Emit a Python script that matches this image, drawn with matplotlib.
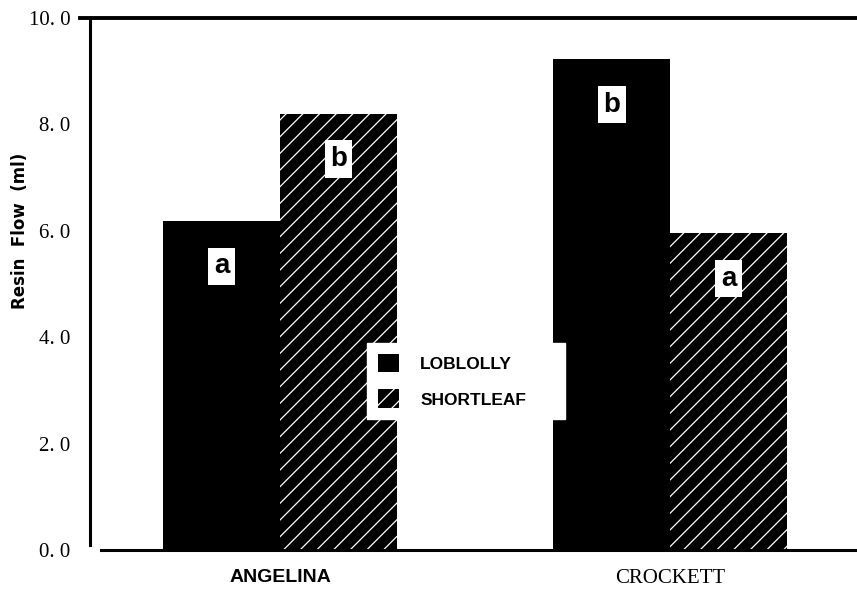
import matplotlib
matplotlib.use("Agg")
import matplotlib.pyplot as plt
from matplotlib.patches import Patch

sites = ["ANGELINA", "CROCKETT"]
species = ["LOBLOLLY", "SHORTLEAF"]
loblolly = [6.18, 9.22]
shortleaf = [8.2, 5.95]
letters_lob = ["a", "b"]
letters_short = ["b", "a"]
yticks = [0.0, 2.0, 4.0, 6.0, 8.0, 10.0]
ytick_labels = ["0. 0", "2. 0", "4. 0", "6. 0", "8. 0", "10. 0"]

plt.rcParams['hatch.linewidth'] = 0.9

fig = plt.figure(figsize=(8.57, 5.96), dpi=100)
ax = fig.add_axes([0.105, 0.0772, 0.895, 0.8926])

w = 0.30
x = [0, 1]
xl = [xi - w / 2 for xi in x]
xs = [xi + w / 2 for xi in x]
ax.bar(xl, loblolly, width=w, color="black", linewidth=0)
ax.bar(xs, shortleaf, width=w, color="black", edgecolor="white", hatch="//", linewidth=0)

off = 0.85
for xi, v, t in zip(xl, loblolly, letters_lob):
    ax.text(xi, v - off, t, ha="center", va="center", fontsize=20, fontweight="bold",
            family="Liberation Sans", color="black",
            bbox=dict(boxstyle="square,pad=0.2", fc="white", ec="none"))
for xi, v, t in zip(xs, shortleaf, letters_short):
    ax.text(xi, v - off, t, ha="center", va="center", fontsize=20, fontweight="bold",
            family="Liberation Sans", color="black",
            bbox=dict(boxstyle="square,pad=0.2", fc="white", ec="none"))

ax.set_xlim(-0.487, 1.479)
ax.set_ylim(0, 10)
ax.set_yticks(yticks)
ax.set_yticklabels(ytick_labels, family="Liberation Serif", fontsize=15)
ax.tick_params(axis="y", length=0, pad=14)
ax.set_xticks(x)
ax.set_xticklabels(sites)
ax.tick_params(axis="x", length=0, pad=14)
tl = ax.get_xticklabels()
tl[0].set_fontfamily("Liberation Sans")
tl[0].set_fontweight("bold")
tl[0].set_fontsize(14)
tl[1].set_fontfamily("Liberation Serif")
tl[1].set_fontsize(15)

for s in ["top", "right"]:
    ax.spines[s].set_visible(False)
ax.spines["left"].set_linewidth(2.2)
ax.spines["bottom"].set_linewidth(2.2)
ax.spines["left"].set_bounds(0.1, 10)
ax.spines["bottom"].set_bounds(-0.46, 1.479)
ax.plot([-0.013, 1], [1, 1], color="black", lw=2.8, transform=ax.transAxes, clip_on=False)

fig.text(20 / 857, 1 - 231 / 596, "Resin  Flow  (ml)", rotation=90, ha="center", va="center",
         fontsize=12, fontweight="bold", family="DejaVu Sans")

handles = [Patch(facecolor="black", linewidth=0),
           Patch(facecolor="black", edgecolor="white", hatch="//", linewidth=0)]
leg = fig.legend(handles, species, loc="upper left",
                 bbox_to_anchor=(367 / 857, 1 - 420 / 596, 198 / 857, 77 / 596),
                 mode="expand", ncol=1, frameon=True, fancybox=False,
                 prop=dict(family="Liberation Sans", weight="bold", size=12.5),
                 handlelength=1.25, handleheight=1.25, labelspacing=1.0,
                 handletextpad=1.2, borderpad=0.62, borderaxespad=0)
leg.get_frame().set_edgecolor("white")
leg.get_frame().set_facecolor("white")
leg.get_frame().set_alpha(1)

fig.savefig("out.png", dpi=100)
